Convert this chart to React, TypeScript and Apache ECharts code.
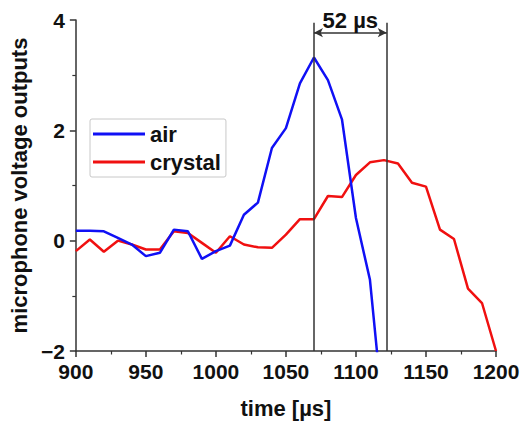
import React, { useEffect, useRef } from "react";
import * as echarts from "echarts";

const times = [900, 910, 920, 930, 940, 950, 960, 970, 980, 990, 1000, 1010, 1020, 1030, 1040, 1050, 1060, 1070, 1080, 1090, 1100, 1110, 1120, 1130, 1140, 1150, 1160, 1170, 1180, 1190, 1200];
const airValues = [0.18, 0.18, 0.17, 0.05, -0.07, -0.28, -0.22, 0.2, 0.17, -0.33, -0.19, -0.09, 0.47, 0.69, 1.68, 2.04, 2.85, 3.32, 2.91, 2.2, 0.41, -0.71, -3.3];
const crystalValues = [-0.19, 0.02, -0.2, 0.0, -0.07, -0.16, -0.16, 0.17, 0.14, -0.04, -0.22, 0.08, -0.07, -0.12, -0.13, 0.11, 0.39, 0.39, 0.81, 0.79, 1.19, 1.42, 1.46, 1.4, 1.05, 0.98, 0.2, 0.03, -0.87, -1.13, -2.0];
const peakTimes = [1070, 1122];
const peakLineTop = 3.95;
const arrowLevel = 3.77;
const annotationText = "52 µs";
const xTicks = { min: 900, max: 1200, step: 50 };
const yTicks = { min: -2, max: 4, step: 2 };

const FONT = "'Liberation Sans', Arial, sans-serif";

export default function App() {
  const ref = useRef<HTMLDivElement>(null);
  useEffect(() => {
    if (!ref.current) return;
    const chart = echarts.init(ref.current, null, { renderer: "svg" });
    const airData = airValues.map((v, i) => [times[i], v]);
    const crystalData = crystalValues.map((v, i) => [times[i], v]);
    const axisLineStyle = { color: "#333", width: 1.5 };
    chart.setOption({
      animation: false,
      backgroundColor: "#fff",
      textStyle: { fontFamily: FONT },
      grid: { left: 73, right: 31, top: 20, bottom: 72, containLabel: false },
      legend: {
        data: ["air", "crystal"],
        orient: "vertical",
        left: 90,
        top: 119,
        padding: [4, 5, 4, 3],
        itemGap: 6,
        itemWidth: 52,
        itemHeight: 3,
        icon: "rect",
        borderColor: "#c8c8c8",
        borderWidth: 1,
        borderRadius: 2,
        textStyle: { fontSize: 22, fontWeight: "bold", color: "#111", fontFamily: FONT },
      },
      xAxis: {
        type: "value",
        min: xTicks.min,
        max: xTicks.max,
        interval: xTicks.step,
        name: "time [µs]",
        nameLocation: "middle",
        nameGap: 46,
        nameTextStyle: { fontSize: 22, fontWeight: "bold", color: "#111", fontFamily: FONT },
        axisLine: { show: true, onZero: false, lineStyle: axisLineStyle },
        axisTick: { show: true, length: 6, lineStyle: axisLineStyle },
        minorTick: { show: true, splitNumber: 2, length: 3.5, lineStyle: { color: "#333", width: 1.2 } },
        splitLine: { show: false },
        axisLabel: {
          fontSize: 21,
          fontWeight: "bold",
          color: "#111",
          margin: 10,
          fontFamily: FONT,
          formatter: (v: number) => String(v),
        },
      },
      yAxis: {
        type: "value",
        min: yTicks.min,
        max: yTicks.max,
        interval: yTicks.step,
        name: "microphone voltage outputs",
        nameLocation: "middle",
        nameGap: 39,
        nameTextStyle: { fontSize: 22, fontWeight: "bold", color: "#111", fontFamily: FONT },
        axisLine: { show: true, onZero: false, lineStyle: axisLineStyle },
        axisTick: { show: true, length: 6, lineStyle: axisLineStyle },
        minorTick: { show: true, splitNumber: 2, length: 3.5, lineStyle: { color: "#333", width: 1.2 } },
        splitLine: { show: false },
        axisLabel: {
          fontSize: 21,
          fontWeight: "bold",
          color: "#111",
          margin: 11,
          fontFamily: FONT,
          formatter: (v: number) => (v < 0 ? "\u2212" + Math.abs(v) : String(v)),
        },
      },
      series: [
        {
          name: "air",
          type: "line",
          data: airData,
          showSymbol: false,
          symbol: "none",
          clip: true,
          lineStyle: { color: "#1010f5", width: 2.5 },
          itemStyle: { color: "#1010f5" },
          z: 3,
          markLine: {
            silent: true,
            symbol: ["none", "none"],
            label: { show: false },
            lineStyle: { color: "#333", width: 1.5, type: "solid" },
            data: peakTimes.map((t) => [
              { coord: [t, peakLineTop] },
              { coord: [t, yTicks.min] },
            ]),
          },
        },
        {
          name: "crystal",
          type: "line",
          data: crystalData,
          showSymbol: false,
          symbol: "none",
          clip: true,
          lineStyle: { color: "#f01010", width: 2.5 },
          itemStyle: { color: "#f01010" },
          z: 2,
          markLine: {
            silent: true,
            symbol: ["arrow", "arrow"],
            symbolSize: [7, 9],
            lineStyle: { color: "#333", width: 1.5, type: "solid" },
            label: {
              show: true,
              position: "middle",
              formatter: annotationText,
              fontSize: 22,
              fontWeight: "bold",
              color: "#111",
              fontFamily: FONT,
              distance: 1,
            },
            data: [[{ coord: [peakTimes[0], arrowLevel] }, { coord: [peakTimes[1], arrowLevel] }]],
          },
        },
      ],
    });
    return () => chart.dispose();
  }, []);
  return <div ref={ref} style={{ width: 527, height: 424, position: "absolute", left: 0, top: 0 }} />;
}
